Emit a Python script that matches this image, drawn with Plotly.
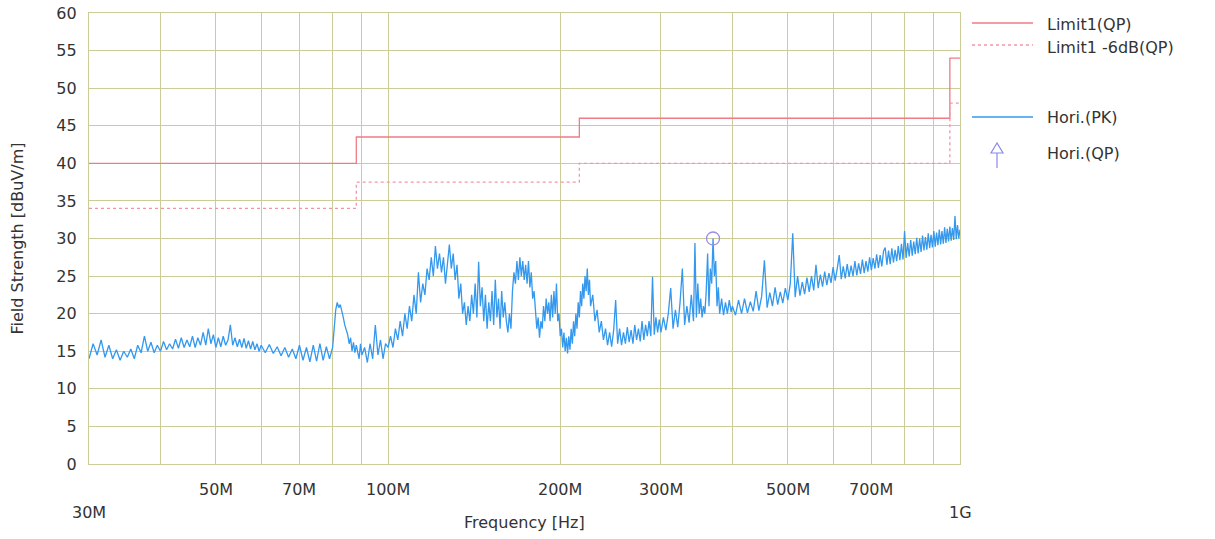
import numpy as np
import plotly.graph_objects as go

# ---- data ----
limit_freq_mhz = [30, 88, 216, 960, 1000]
limit_qp = [40, 43.5, 46, 54, 54]
limit_qp_6db = [34, 37.5, 40, 48, 48]

# Hori.(PK) trace, 30 MHz - 398 MHz
pk_freq_low_mhz = [
    30.0, 30.5, 31.0, 31.5, 32.0, 32.5, 33.0, 33.5, 34.0, 34.5, 35.0, 35.5, 36.0, 36.5, 37.0, 37.5, 38.0, 38.5, 39.0, 39.5, 40.0,
    40.5, 41, 41.5, 42, 42.5, 43, 43.5, 44, 44.5, 45, 45.5, 46, 46.5, 47, 47.5, 48, 48.5, 49, 49.5, 50,
    50.5, 51, 51.5, 52, 52.5, 53, 53.5, 54, 54.5, 55, 55.5, 56, 56.5, 57, 57.5, 58, 58.5, 59, 59.5, 60,
    61, 62, 63, 64, 65, 66, 67, 68, 69, 70,
    71, 72, 73, 74, 75, 76, 77, 78, 79, 80,
    80.5, 81, 81.5, 82, 82.5, 83, 83.5, 84, 85, 85.5, 86, 86.5, 87, 87.5, 88, 89, 89.5, 90,
    91, 92, 93, 94, 95, 96, 97, 98, 99, 100,
    101, 102, 103, 104, 105, 106, 107, 108, 109, 110,
    111, 112, 113, 114, 115, 116, 117, 118, 119, 120,
    121, 122, 123, 124, 125, 126, 127, 128, 129, 130,
    131, 132, 133, 134, 135, 136, 137, 138, 139, 140,
    141, 142, 143, 144, 145, 146, 147, 148, 149, 150,
    151, 152, 153, 154, 155, 156, 157, 158, 159, 160,
    161, 162, 163, 164, 165, 166, 167, 168, 169, 170,
    171, 172, 173, 174, 175, 176, 177, 178, 179, 180,
    181, 182, 183, 184, 185, 186, 187, 188, 189, 190,
    191, 192, 193, 194, 195, 196, 197, 198, 199, 200,
    201, 202, 203, 204, 205, 206, 207, 208, 209, 210, 211, 212,
    213, 214, 215, 216, 217, 218, 219, 220, 221, 222, 223, 224, 225,
    226, 228, 230, 232, 234, 236, 238, 240, 242, 244,
    246, 248, 250, 252, 254, 256, 258, 260, 262, 264, 266, 268, 270, 272, 274, 276, 278, 280,
    282, 284, 286, 288, 290, 292, 294, 296, 298, 300,
    303, 306, 309, 312, 315, 318, 321, 324, 327, 330, 333, 336, 339, 342, 344, 346,
    348, 350, 352, 354, 356, 358, 360, 362, 364, 366, 368, 370, 372, 374, 376, 378, 380,
    383, 386, 389, 392, 395, 398,
]
pk_level_low = [
    14.0, 16.0, 14.5, 16.5, 14.2, 15.8, 14.0, 15.2, 13.8, 15.0, 14.2, 15.3, 14.0, 15.8, 14.8, 17.0, 15.0, 16.2, 14.8, 15.8, 15.0,
    16.3, 15.2, 16.0, 15.3, 16.6, 15.4, 16.8, 15.5, 16.5, 15.6, 17.0, 15.5, 16.8, 15.8, 17.5, 15.8, 18.0, 16.0, 17.2, 15.5,
    16.8, 15.6, 17.0, 15.8, 16.5, 18.5, 15.8, 16.8, 15.6, 16.6, 15.5, 16.7, 15.4, 16.4, 15.3, 16.3, 15.2, 16.0, 15.0, 15.8,
    14.8, 15.9, 14.7, 15.6, 14.4, 15.5, 14.2, 15.3, 14.0, 15.8,
    13.8, 15.5, 13.6, 15.8, 13.7, 16.0, 13.8, 15.6, 14.0, 15.5,
    18.0, 20.5, 21.5, 20.8, 21.2, 20.5, 19.5, 18.5, 17.2, 16.0, 16.8, 15.0, 16.2, 14.8, 15.8, 14.0, 16.0, 14.5,
    15.5, 13.5, 16.0, 14.0, 18.5, 14.5, 16.5, 14.0, 16.0, 15.5,
    17.0, 15.5, 18.0, 16.5, 19.0, 17.0, 20.0, 18.0, 21.0, 19.0,
    22.5, 20.0, 25.5, 21.5, 24.0, 22.5, 26.0, 24.5, 27.5, 25.0,
    29.0, 26.0, 28.0, 25.5, 27.5, 24.0, 27.0, 29.2, 26.0, 28.0,
    24.5, 26.5, 22.0, 24.0, 20.0, 21.5, 18.5, 21.0, 19.0, 22.5,
    20.0, 24.0, 19.5, 26.9, 21.0, 23.5, 19.0, 22.5, 18.0, 21.5,
    19.0, 23.0, 18.5, 24.5, 19.5, 22.0, 18.0, 23.0, 19.5, 21.5,
    19.0, 17.5, 20.0, 18.0, 23.0, 25.5, 24.0, 27.0, 24.5, 27.5,
    25.0, 27.0, 24.5, 26.5, 24.0, 27.0, 23.5, 25.5, 22.0, 23.0,
    20.5, 18.0, 19.5, 16.8, 19.0, 18.0, 21.0, 19.0, 22.0, 20.0,
    21.5, 19.0, 22.5, 19.5, 23.0, 20.0, 24.0, 19.0, 20.0, 17.0,
    18.0, 15.5, 17.5, 15.0, 16.8, 14.7, 17.0, 15.2, 18.0, 16.0, 19.0, 17.0,
    20.0, 18.0, 21.5, 19.5, 23.0, 21.0, 24.0, 22.0, 25.0, 23.0, 26.0, 22.5, 24.5,
    21.0, 22.5, 19.0, 20.5, 17.5, 19.0, 16.5, 18.0, 15.8, 17.5,
    15.6, 17.8, 21.8, 16.0, 18.0, 15.8, 17.5, 16.0, 18.2, 16.2, 17.8, 16.0, 18.5, 16.5, 18.0, 16.3, 19.0, 16.5,
    18.5, 17.0, 19.0, 17.0, 24.9, 17.2, 19.5, 17.5, 19.2, 17.5,
    19.5, 17.8, 20.0, 23.4, 18.0, 20.5, 18.2, 21.5, 26.0, 18.5, 21.0, 18.8, 22.5, 19.0, 29.4, 19.5,
    24.0, 20.0, 22.0, 19.5, 21.0, 20.0, 23.0, 28.0, 21.0, 26.0, 24.0, 30.0, 25.0, 27.0, 21.0, 23.5, 20.0,
    22.0, 19.8, 21.5, 20.0, 21.8, 20.2,
]

# Hori.(PK) trace, 400 MHz - 1 GHz
pk_freq_high_mhz = [
    400, 405, 410, 415, 420, 425, 430, 435, 440, 445, 450, 455, 460, 465, 470, 475, 480, 485, 490, 495,
    500, 505, 510, 515, 520, 525, 530, 535, 540, 545, 550, 555, 560, 565, 570, 575, 580, 585, 590, 595,
    600, 605, 610, 615, 620, 625, 630, 635, 640, 645, 650, 655, 660, 665, 670, 675, 680, 685, 690, 695,
    700, 705, 710, 715, 720, 725, 730, 735, 740, 745, 750, 755, 760, 765, 770, 775, 780, 785, 790, 795,
    800, 805, 810, 815, 820, 825, 830, 835, 840, 845, 850, 855, 860, 865, 870, 875, 880, 885, 890, 895,
    900, 905, 910, 915, 920, 925, 930, 935, 940, 945, 950, 955, 960, 965, 970, 975, 980, 985, 990, 995,
    1000,
]
pk_level_high = [
    21.0, 19.8, 21.8, 20.0, 22.0, 20.1, 21.6, 20.3, 23.0, 20.4, 22.3, 27.1, 20.8, 22.8, 21.0, 23.5, 21.2, 22.9, 21.4, 23.4,
    21.8, 24.0, 30.7, 22.2, 25.0, 22.4, 24.2, 22.6, 24.8, 22.9, 25.0, 23.1, 26.5, 23.4, 25.2, 23.6, 25.6, 23.8, 25.4, 24.1,
    26.2, 24.4, 26.0, 27.8, 24.6, 26.3, 24.7, 26.6, 24.9, 26.4, 25.0, 27.0, 25.1, 26.7, 25.3, 27.2, 25.4, 27.0, 25.6, 27.5,
    25.8, 27.4, 26.0, 27.9, 26.1, 27.8, 26.3, 28.3, 28.8, 26.5, 28.4, 26.6, 28.7, 26.8, 28.5, 27.0, 29.0, 27.1, 29.3, 27.2,
    31.0, 27.4, 29.4, 27.6, 29.8, 27.7, 29.6, 27.9, 30.1, 28.0, 30.0, 28.2, 30.4, 28.4, 30.2, 28.5, 30.7, 28.7, 30.5, 28.8,
    31.0, 28.9, 30.8, 29.1, 31.2, 29.2, 31.0, 29.3, 31.5, 29.4, 31.3, 29.6, 31.6, 29.7, 31.4, 29.8, 33.0, 29.9, 31.8, 30.0,
    31.2,
]

qp_freq_mhz = [370]
qp_level = [30.0]

grid_freq_mhz = [40, 50, 60, 70, 80, 90, 100, 200, 300, 400, 500, 600, 700, 800, 900]
upper_tick_mhz = [50, 70, 100, 200, 300, 500, 700]
upper_tick_text = ["50M", "70M", "100M", "200M", "300M", "500M", "700M"]
lower_tick_mhz = [30, 1000]
lower_tick_text = ["30M", "1G"]
y_ticks = list(range(0, 61, 5))

# ---- styles ----
GRID = "#cccc99"
RED = "#ee7b86"
RED_DOT = "#f296a6"
BLUE = "#3398ee"
TXT = "#333333"
FONT = "DejaVu Sans"

pk_freq = np.array(pk_freq_low_mhz + pk_freq_high_mhz) * 1e6
pk_level = pk_level_low + pk_level_high

fig = go.Figure()
fig.add_trace(go.Scatter(x=pk_freq, y=pk_level, mode="lines",
                         line=dict(color=BLUE, width=1.3), name="Hori.(PK)"))
fig.add_trace(go.Scatter(x=np.array(limit_freq_mhz) * 1e6, y=limit_qp, mode="lines",
                         line=dict(color=RED, width=1.3, shape="hv"), name="Limit1(QP)"))
fig.add_trace(go.Scatter(x=np.array(limit_freq_mhz) * 1e6, y=limit_qp_6db, mode="lines",
                         line=dict(color=RED_DOT, width=1.3, shape="hv", dash="dot"), name="Limit1 -6dB(QP)"))
fig.add_trace(go.Scatter(x=np.array(qp_freq_mhz) * 1e6, y=qp_level, mode="markers",
                         marker=dict(symbol="circle-open", size=13, color="#9b8be6", line=dict(width=1.3)),
                         name="Hori.(QP)"))

L, R, T, B = 89, 255, 13, 75
W, H = 1215, 539
pw, ph = W - L - R, H - T - B

def px(xp):
    return (xp - L) / pw

def py(yp):
    return (H - B - yp) / ph

annotations = []
for f, t in zip(upper_tick_mhz, upper_tick_text):
    annotations.append(dict(x=np.log10(f * 1e6), y=py(489), xref="x", yref="paper", text=t,
                            xanchor="center", yanchor="middle",
                            showarrow=False, font=dict(family=FONT, size=16, color=TXT)))
for f, t in zip(lower_tick_mhz, lower_tick_text):
    annotations.append(dict(x=np.log10(f * 1e6), y=py(512), xref="x", yref="paper", text=t,
                            xanchor="center", yanchor="middle",
                            showarrow=False, font=dict(family=FONT, size=16, color=TXT)))
annotations.append(dict(x=px(524), y=py(522), xref="paper", yref="paper", text="Frequency [Hz]",
                        xanchor="center", yanchor="middle",
                        showarrow=False, font=dict(family=FONT, size=16, color=TXT)))

# custom legend
legend_items = [("Limit1(QP)", 24), ("Limit1 -6dB(QP)", 47), ("Hori.(PK)", 117), ("Hori.(QP)", 153)]
for text, yy in legend_items:
    annotations.append(dict(x=px(1045), y=py(yy), xref="paper", yref="paper", text=text,
                            xanchor="left", yanchor="middle",
                            showarrow=False, font=dict(family=FONT, size=16, color=TXT)))

shapes = [
    dict(type="line", xref="paper", yref="paper", x0=px(972), x1=px(1033), y0=py(23), y1=py(23),
         line=dict(color=RED, width=1.3)),
    dict(type="line", xref="paper", yref="paper", x0=px(972), x1=px(1033), y0=py(45), y1=py(45),
         line=dict(color=RED_DOT, width=1.3, dash="dot")),
    dict(type="line", xref="paper", yref="paper", x0=px(972), x1=px(1033), y0=py(117), y1=py(117),
         line=dict(color=BLUE, width=1.3)),
    dict(type="path", xref="paper", yref="paper",
         path=f"M {px(997)} {py(143)} L {px(991)} {py(153)} L {px(1003)} {py(153)} Z M {px(997)} {py(153)} L {px(997)} {py(168)}",
         line=dict(color="#8a8ae6", width=1.2)),
]

fig.update_layout(
    width=W, height=H,
    margin=dict(l=L, r=R, t=T, b=B, autoexpand=False),
    paper_bgcolor="white", plot_bgcolor="white",
    showlegend=False,
    font=dict(family=FONT, size=16, color=TXT),
    annotations=annotations,
    shapes=shapes,
    xaxis=dict(type="log", range=[np.log10(30e6), np.log10(1e9)], automargin=False,
               tickvals=[f * 1e6 for f in grid_freq_mhz], showticklabels=False,
               showgrid=True, gridcolor=GRID, gridwidth=1.4,
               showline=True, linecolor=GRID, linewidth=1.4, mirror=True, zeroline=False),
    yaxis=dict(range=[0, 60], tickvals=y_ticks, showgrid=True, gridcolor=GRID, gridwidth=1.4,
               automargin=False,
               showline=True, linecolor=GRID, linewidth=1.4, mirror=True, zeroline=False,
               ticks="", ticklabelstandoff=8,
               tickfont=dict(family=FONT, size=16, color=TXT),
               title=dict(text="Field Strength [dBuV/m]", font=dict(family=FONT, size=16, color=TXT), standoff=28)),
)

fig.write_html("out.html")
